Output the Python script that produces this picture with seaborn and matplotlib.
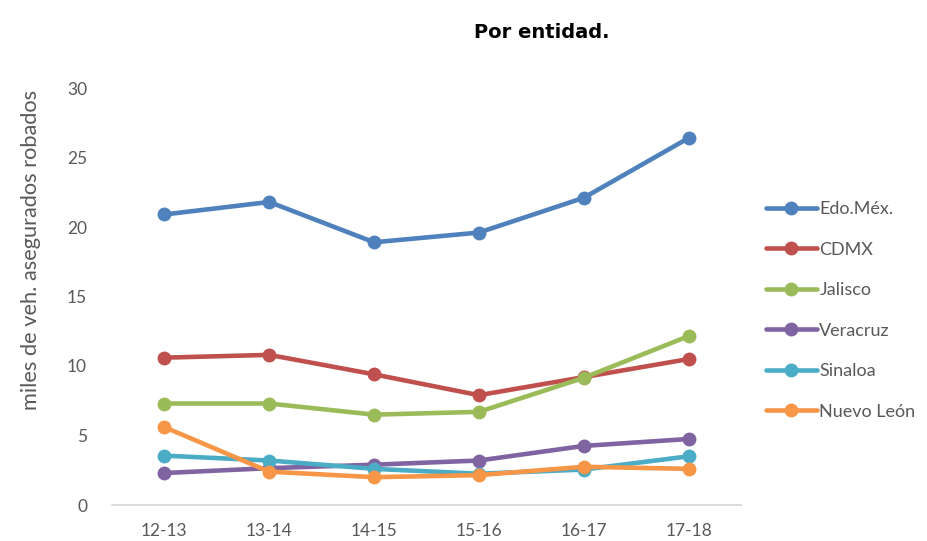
import matplotlib
matplotlib.use('Agg')
import matplotlib.pyplot as plt
import seaborn as sns
import pandas as pd

# datos (miles de vehículos asegurados robados)
periodos = ['12-13', '13-14', '14-15', '15-16', '16-17', '17-18']
entidades = ['Edo.Méx.', 'CDMX', 'Jalisco', 'Veracruz', 'Sinaloa', 'Nuevo León']
edomex = [20.9, 21.8, 18.9, 19.6, 22.1, 26.4]
cdmx = [10.6, 10.8, 9.4, 7.9, 9.2, 10.5]
jalisco = [7.3, 7.3, 6.5, 6.7, 9.15, 12.15]
veracruz = [2.3, 2.65, 2.9, 3.2, 4.25, 4.75]
sinaloa = [3.55, 3.2, 2.6, 2.25, 2.55, 3.5]
nuevo_leon = [5.6, 2.4, 2.0, 2.15, 2.75, 2.6]
colores = ['#4F81BD', '#C0504D', '#9BBB59', '#8064A2', '#4BACC6', '#F79646']

series = [edomex, cdmx, jalisco, veracruz, sinaloa, nuevo_leon]
filas = []
for nombre, valores in zip(entidades, series):
    for p, v in zip(periodos, valores):
        filas.append({'periodo': p, 'entidad': nombre, 'valor': v})
df = pd.DataFrame(filas)

sns.set_style('white')
plt.rcParams['font.family'] = ['Lato', 'DejaVu Sans']

fig = plt.figure(figsize=(9.27, 5.41), dpi=100)
ax = fig.add_axes([112 / 927, 36 / 541, 629 / 927, 417 / 541])

sns.lineplot(data=df, x='periodo', y='valor', hue='entidad', hue_order=entidades,
             palette=colores, marker='o', markersize=10, markeredgewidth=0,
             linewidth=3.3, sort=False, ax=ax)

ax.set_xlim(-0.5, 5.5)
ax.set_ylim(0, 30)
ax.set_yticks([0, 5, 10, 15, 20, 25, 30])
ax.set_xlabel('')
ax.set_ylabel('')
for s in ['top', 'right', 'left']:
    ax.spines[s].set_visible(False)
ax.spines['bottom'].set_color('#D9D9D9')
ax.spines['bottom'].set_linewidth(1.3)
ax.tick_params(axis='both', length=0, labelsize=12.5, colors='#595959')
ax.tick_params(axis='y', pad=18)
ax.tick_params(axis='x', pad=13)

fig.text(31 / 927, 1 - 250 / 541, 'miles de veh. asegurados robados', rotation=90,
         ha='center', va='center', fontsize=15.7, color='#595959')
fig.text(542 / 927, 1 - 33 / 541, 'Por entidad.', ha='center', va='center',
         fontsize=14, fontweight='bold', color='black', family='DejaVu Sans')

ax.legend(loc='upper left', bbox_to_anchor=(766 / 927, 1 - 201 / 541),
          bbox_transform=fig.transFigure, frameon=False, fontsize=13,
          labelcolor='#595959', handlelength=2.8, handletextpad=0.15,
          labelspacing=1.36, borderaxespad=0, borderpad=0)

plt.savefig('out.png', dpi=100)
